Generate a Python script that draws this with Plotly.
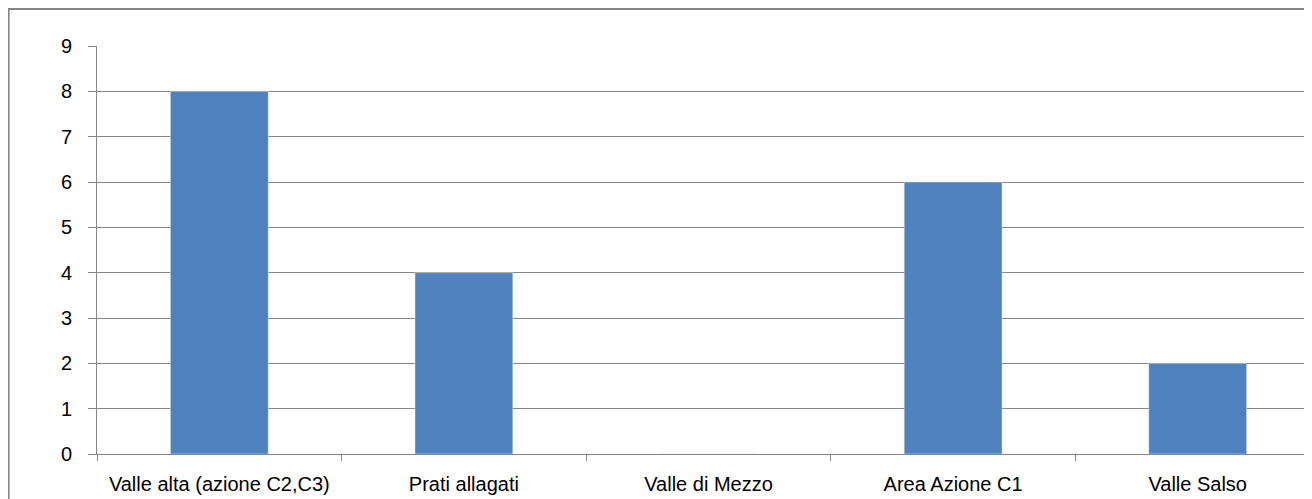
import plotly.graph_objects as go

categories = ["Valle alta (azione C2,C3)", "Prati allagati", "Valle di Mezzo", "Area Azione C1", "Valle Salso"]
values = [8, 4, 0, 6, 2]

W, H = 1312, 499
L, R, T, B = 89, 0, 38, 53
pw, ph = W - L - R, H - T - B

fig = go.Figure(go.Bar(x=categories, y=values, marker_color="#4F81BD", width=0.4))

fig.update_layout(
    width=W, height=H,
    margin=dict(l=L, r=R, t=T, b=B, autoexpand=False),
    plot_bgcolor="white", paper_bgcolor="white",
    showlegend=False,
    font=dict(family="Liberation Sans", color="black"),
    xaxis=dict(showline=True, linecolor="#868686", linewidth=1, ticks="outside",
               ticklen=6, tickcolor="#868686", tickson="boundaries",
               ticklabelstandoff=12, tickfont=dict(size=20)),
    yaxis=dict(range=[0, 9], dtick=1, showgrid=True, gridcolor="#868686", gridwidth=1,
               showline=True, linecolor="#868686", ticks="outside", ticklen=8,
               tickcolor="#868686", zeroline=False, ticklabelstandoff=12,
               tickfont=dict(size=20)),
    shapes=[dict(type="rect", xref="paper", yref="paper",
                 x0=-L / pw + 0.0005, x1=1.05, y0=-0.3, y1=1 + (T - 1) / ph,
                 line=dict(color="#868686", width=2))],
)

fig.write_html("out.html")
